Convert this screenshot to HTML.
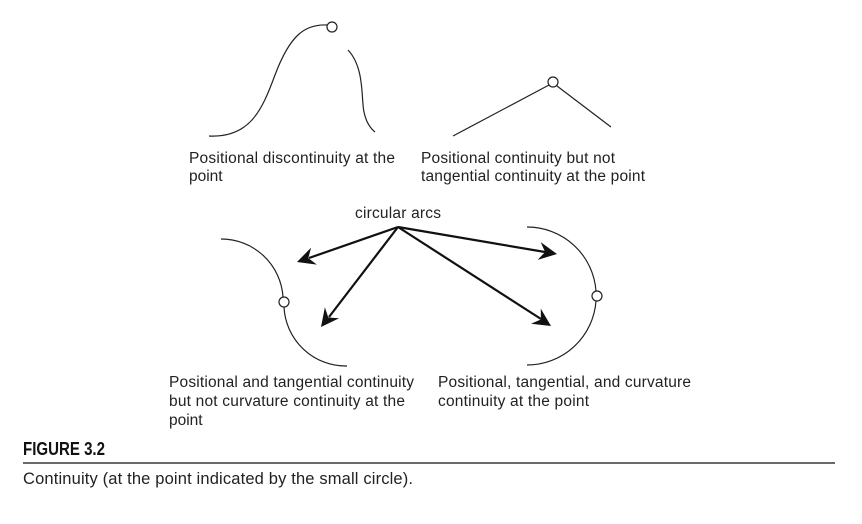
<!DOCTYPE html>
<html><head><style>html,body{margin:0;padding:0;background:#fff}</style></head><body>
<svg width="862" height="519" viewBox="0 0 862 519" xmlns="http://www.w3.org/2000/svg" font-family="Liberation Sans, Arial, sans-serif">
<rect width="862" height="519" fill="#fff"/>
<g fill="none" stroke="#222" stroke-width="1.2">
<path d="M209,136 C250,138 262,110 275,75 C290,35 305,24 327,25"/>
<path d="M348,50 C365,68 361,100 364,112 C366,122 370,128 375,132"/>
<path d="M453,136 L549,85"/>
<path d="M557,86 L611,127"/>
<path d="M221,239 A62,62 0 0 1 283,297"/>
<path d="M284,307 A62,62 0 0 0 347,366"/>
<path d="M527,227 A69,69 0 0 1 596,291"/>
<path d="M596,301 A69,69 0 0 1 527,365"/>
</g>
<g fill="#fff" stroke="#222" stroke-width="1.2">
<circle cx="332" cy="27" r="5"/>
<circle cx="553" cy="82" r="5"/>
<circle cx="284" cy="302" r="5"/>
<circle cx="597" cy="296" r="5"/>
</g>
<g stroke="#111" stroke-width="2.2">
<line x1="398" y1="227" x2="309" y2="258"/>
<line x1="398" y1="227" x2="329" y2="317"/>
<line x1="398" y1="227" x2="545" y2="252"/>
<line x1="398" y1="227" x2="541" y2="319"/>
</g>
<g fill="#111">
<polygon points="297,262 316.9,264.6 308.3,258.1 311.1,247.6"/>
<polygon points="321,327 339.1,318.2 328.3,317.5 324.9,307.2"/>
<polygon points="557,254 537.7,259.9 545.1,252 540.7,242.1"/>
<polygon points="551,326 531,323.8 540.9,319.5 540.8,308.6"/>
</g>
<g font-size="15.5" fill="#222">
<text x="189" y="163" textLength="206">Positional discontinuity at the</text>
<text x="189" y="181">point</text>
<text x="421" y="163" textLength="194">Positional continuity but not</text>
<text x="421" y="181" textLength="224">tangential continuity at the point</text>
<text x="355" y="218" textLength="86">circular arcs</text>
<text x="169" y="387" textLength="245">Positional and tangential continuity</text>
<text x="169" y="406" textLength="236">but not curvature continuity at the</text>
<text x="169" y="425">point</text>
<text x="438" y="387" textLength="253">Positional, tangential, and curvature</text>
<text x="438" y="406" textLength="151">continuity at the point</text>
</g>
<text x="23" y="455" font-size="18" font-weight="bold" fill="#111" textLength="82" lengthAdjust="spacingAndGlyphs">FIGURE 3.2</text>
<line x1="23" y1="463" x2="835" y2="463" stroke="#111" stroke-width="1.3"/>
<text x="23" y="484" font-size="16.5" fill="#222" textLength="390">Continuity (at the point indicated by the small circle).</text>
</svg>
</body></html>
